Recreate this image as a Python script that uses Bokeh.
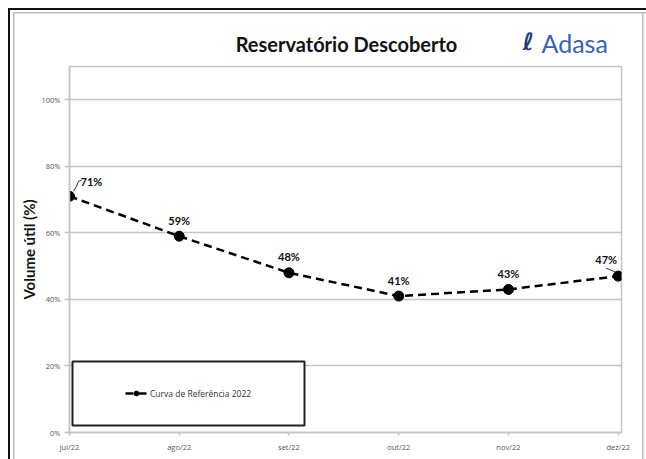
from bokeh.plotting import figure
from bokeh.layouts import column
from bokeh.models import (Range1d, FixedTicker, Legend, LegendItem, BoxAnnotation, Node)
from bokeh.core.properties import value
from bokeh.embed import file_html
from bokeh.resources import INLINE

# ---- data ----
months = ["jul/22", "ago/22", "set/22", "out/22", "nov/22", "dez/22"]
volume = [71, 59, 48, 41, 43, 47]
y_ticks = [0, 20, 40, 60, 80, 100]
y_tick_labels = ["0%", "20%", "40%", "60%", "80%", "100%"]
series_name = "Curva de Referência 2022"
title_text = "Reservatório Descoberto"
y_label = "Volume útil (%)"
logo_text = "Adasa"

xs = list(range(len(months)))
labels = [f"{v}%" for v in volume]

GRID = "#c4c4c4"
FONT = "Open Sans"
W = 646
HEAD_H = 56
MAIN_H = 459 - HEAD_H
LEFT, RIGHT = 69, 25
X_MAX = 5.03
Y_MAX = 110

# ---------------- header (title + logo) ----------------
h = figure(width=W, height=HEAD_H, output_backend="svg", toolbar_location=None,
           x_range=Range1d(LEFT, W - RIGHT), y_range=Range1d(HEAD_H, 0),
           min_border_left=LEFT, min_border_right=RIGHT, min_border_top=0, min_border_bottom=0,
           border_fill_alpha=0, background_fill_alpha=0)
h.axis.visible = False
h.grid.visible = False
h.outline_line_color = None
h.text([346], [43], text=[title_text], text_font=value("Lato"), text_font_size="20px",
       text_font_style="bold", text_color="#111111", text_align="center",
       text_baseline="middle")
h.text([528], [41], text=["ℓ"], text_font=value("DejaVu Sans"), text_font_size="24px",
       text_font_style="bold italic", text_color="#1f3b73", text_align="center",
       text_baseline="middle")
h.text([541], [42], text=[logo_text], text_font=value("Lato"), text_font_size="25px",
       text_color="#3a62ad", text_align="left", text_baseline="middle")

# ---------------- main chart ----------------
p = figure(width=W, height=MAIN_H, output_backend="svg", toolbar_location=None,
           x_range=Range1d(0, X_MAX), y_range=Range1d(0, Y_MAX),
           min_border_left=LEFT, min_border_right=RIGHT, min_border_top=10, min_border_bottom=27,
           background_fill_color="white", border_fill_alpha=0)

p.outline_line_color = GRID
p.outline_line_width = 1.5

p.xaxis.ticker = FixedTicker(ticks=xs)
p.xaxis.major_label_overrides = {i: m for i, m in enumerate(months)}
p.yaxis.ticker = FixedTicker(ticks=y_ticks)
p.yaxis.major_label_overrides = {t: l for t, l in zip(y_ticks, y_tick_labels)}
for ax in (p.xaxis, p.yaxis):
    ax.axis_line_color = GRID
    ax.axis_line_width = 1.5
    ax.major_tick_line_color = GRID
    ax.major_tick_line_width = 1.5
    ax.minor_tick_line_color = None
    ax.major_tick_in = 0
    ax.major_label_text_font = FONT
    ax.major_label_text_font_size = "7.5px"
    ax.major_label_text_color = "#555555"
p.xaxis.major_tick_out = 3
p.xaxis.major_label_standoff = 6
p.yaxis.major_tick_out = 5
p.yaxis.major_label_standoff = 4
p.yaxis.axis_label = y_label
p.yaxis.axis_label_text_font = "Lato"
p.yaxis.axis_label_text_font_size = "15px"
p.yaxis.axis_label_text_font_style = "bold"
p.yaxis.axis_label_text_color = "#111111"
p.yaxis.axis_label_standoff = 0

p.xgrid.grid_line_color = None
p.ygrid.ticker = FixedTicker(ticks=y_ticks)
p.ygrid.grid_line_color = GRID
p.ygrid.grid_line_width = 1.5

# legend box
p.add_layout(BoxAnnotation(left=Node(target="frame", symbol="left", offset=3),
                           right=Node(target="frame", symbol="left", offset=235),
                           top=Node(target="frame", symbol="bottom", offset=-71),
                           bottom=Node(target="frame", symbol="bottom", offset=-7),
                           fill_color="white", fill_alpha=1.0,
                           line_color="#222222", line_alpha=1.0, line_width=2))

# series
r_line = p.line(xs, volume, line_color="black", line_width=2.5, line_dash="8 5")
r_pts = p.scatter(xs, volume, size=10, color="black")

# data labels
lab_font = dict(text_font=value("Lato"), text_font_size="11px", text_font_style="bold",
                text_color="#111111", text_baseline="middle", text_align="center")
p.text(xs[1:-1], volume[1:-1], text=labels[1:-1], y_offset=-16, **lab_font)
p.text(xs[:1], volume[:1], text=labels[:1], x_offset=22, y_offset=-15, **lab_font)
p.text(xs[-1:], volume[-1:], text=labels[-1:], x_offset=-12, y_offset=-17, **lab_font)

# leader lines (pixel offsets converted to data units)
px_x = X_MAX / 552
px_y = Y_MAX / 366
p.line([xs[0] + 4 * px_x, xs[0] + 7 * px_x, xs[0] + 9 * px_x, xs[0] + 12 * px_x],
       [volume[0] + 5 * px_y, volume[0] + 10 * px_y, volume[0] + 15 * px_y, volume[0] + 16 * px_y],
       line_color="#333333", line_width=1)
p.line([xs[-1] - 3 * px_x, xs[-1] - 12 * px_x],
       [volume[-1] + 4 * px_y, volume[-1] + 8 * px_y],
       line_color="#333333", line_width=1)

legend = Legend(items=[LegendItem(label=series_name, renderers=[r_line, r_pts])],
                location=(56, 33), padding=0, margin=0, spacing=0,
                glyph_width=22, glyph_height=12, label_standoff=3,
                label_text_font=FONT, label_text_font_size="8.5px",
                label_text_color="#333333",
                border_line_alpha=0, background_fill_alpha=0)
p.add_layout(legend, "center")

# document frame (black outer + grey inner) drawn as the page background
frame_styles = {
    "background-color": "white",
    "background-image": ", ".join(["linear-gradient(#111111, #111111)"] * 2 +
                                  ["linear-gradient(#bdbdbd, #bdbdbd)"] * 3),
    "background-position": "8px 8px, 8px 8px, 13px 12px, 13px 12px, 642px 12px",
    "background-size": "2px 100%, 100% 2px, 1.5px 100%, 100% 1.5px, 1.5px 100%",
    "background-repeat": "no-repeat",
}

layout = column(h, p, spacing=0, styles=frame_styles)
open("out.html", "w").write(file_html(layout, INLINE))
